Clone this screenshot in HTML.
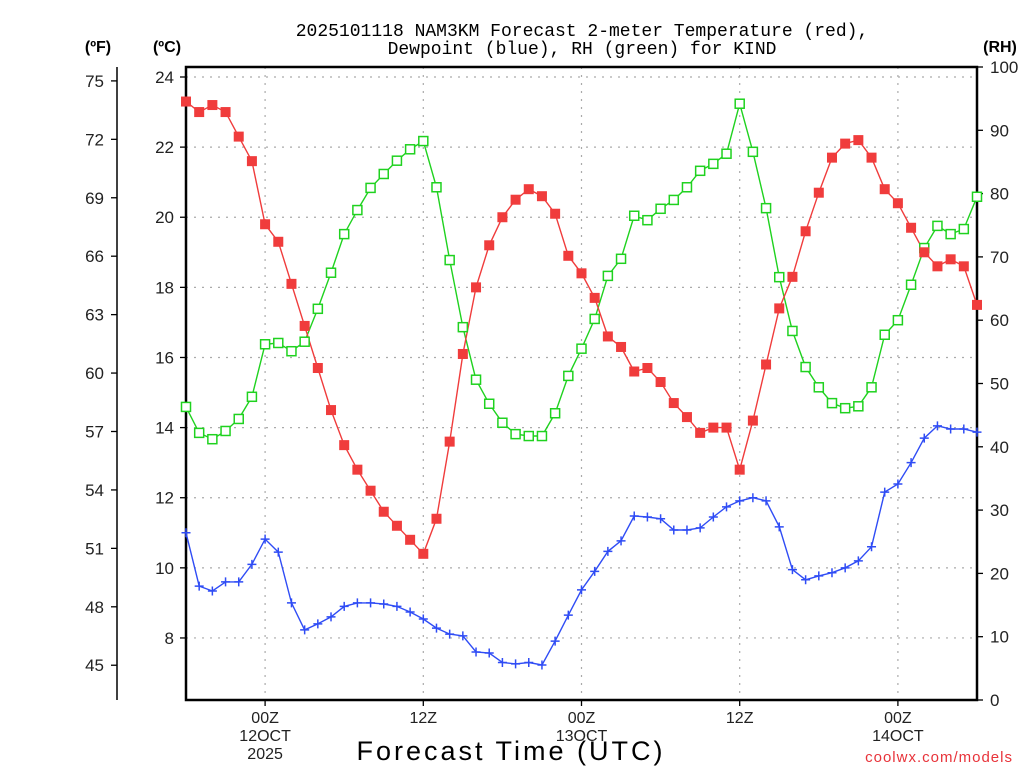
<!DOCTYPE html>
<html><head><meta charset="utf-8"><style>
html,body{margin:0;padding:0;background:#fff;}
svg{display:block;font-family:"Liberation Sans",sans-serif;}
</style></head><body>
<svg id="chart" width="1024" height="768" viewBox="0 0 1024 768">
<g id="grid"></g>
<g id="axes"></g>
<g id="series"></g>
<text x="582" y="36" font-size="18" font-family="Liberation Mono, monospace" text-anchor="middle" fill="#000">2025101118 NAM3KM Forecast 2-meter Temperature (red),</text>
<text x="582" y="54" font-size="18" font-family="Liberation Mono, monospace" text-anchor="middle" fill="#000">Dewpoint (blue), RH (green) for KIND</text>
<text x="98" y="52" font-size="16" font-weight="bold" text-anchor="middle">(ºF)</text>
<text x="167" y="52" font-size="16" font-weight="bold" text-anchor="middle">(ºC)</text>
<text x="1000" y="52" font-size="16" font-weight="bold" text-anchor="middle">(RH)</text>
<text x="511" y="760" font-size="27" text-anchor="middle" letter-spacing="3">Forecast Time (UTC)</text>
<text x="1013" y="762" font-size="15" text-anchor="end" fill="#e8333a" letter-spacing="1">coolwx.com/models</text>
</svg>
<script>
const hoursStart = 0;
const tempC = [23.3,23.0,23.2,23.0,22.3,21.6,19.8,19.3,18.1,16.9,15.7,14.5,13.5,12.8,12.2,11.6,11.2,10.8,10.4,11.4,13.6,16.1,18.0,19.2,20.0,20.5,20.8,20.6,20.1,18.9,18.4,17.7,16.6,16.3,15.6,15.7,15.3,14.7,14.3,13.85,14.0,14.0,12.8,14.2,15.8,17.4,18.3,19.6,20.7,21.7,22.1,22.2,21.7,20.8,20.4,19.7,19.0,18.6,18.8,18.6,17.5];
const dewC = [11.0,9.48,9.34,9.6,9.6,10.1,10.82,10.45,9.0,8.23,8.4,8.6,8.9,9.0,9.0,8.97,8.9,8.74,8.54,8.28,8.11,8.06,7.6,7.57,7.3,7.26,7.3,7.23,7.91,8.65,9.37,9.9,10.47,10.77,11.48,11.45,11.4,11.08,11.08,11.14,11.45,11.74,11.91,12.0,11.91,11.17,9.95,9.66,9.77,9.86,10.0,10.2,10.6,12.16,12.39,13.0,13.7,14.05,13.96,13.96,13.87];
const rh = [46.3,42.2,41.2,42.5,44.4,47.9,56.2,56.4,55.1,56.6,61.8,67.5,73.6,77.4,80.9,83.1,85.2,87.0,88.3,81.0,69.5,58.9,50.6,46.8,43.8,42.0,41.7,41.7,45.3,51.2,55.5,60.2,67.0,69.7,76.5,75.8,77.6,79.0,81.0,83.6,84.7,86.3,94.2,86.6,77.7,66.8,58.3,52.6,49.4,46.9,46.1,46.4,49.4,57.7,60.0,65.6,71.4,74.9,73.6,74.4,79.5];
const cTicks = [8,10,12,14,16,18,20,22,24];
const fTicks = [45,48,51,54,57,60,63,66,69,72,75];
const rhTicks = [0,10,20,30,40,50,60,70,80,90,100];
const xTickHours = [6,18,30,42,54];
const xTickLabels = [["00Z","12OCT","2025"],["12Z"],["00Z","13OCT"],["12Z"],["00Z","14OCT"]];

const NS="http://www.w3.org/2000/svg";
const L=186,R=977,T=67,B=700;
const xS=h=>L+(h-hoursStart)*(R-L)/60;
const yC=c=>77+(24-c)*35.06;
const yF=f=>yC((f-32)*5/9);
const yRH=v=>B-(v)*(B-T)/100;
function mk(tag,attrs,parent){const e=document.createElementNS(NS,tag);for(const k in attrs)e.setAttribute(k,attrs[k]);parent.appendChild(e);return e;}
const grid=document.getElementById('grid'),axes=document.getElementById('axes'),ser=document.getElementById('series');

cTicks.forEach(c=>{
  const g=mk('line',{x1:L,x2:R,y1:yC(c),y2:yC(c),stroke:'#aaa','stroke-width':1.2,'stroke-dasharray':'2,6'},grid);
  
  
  const t=mk('line',{x1:L-6,x2:L,y1:yC(c),y2:yC(c),stroke:'#000','stroke-width':1.3},axes);
  
  
  const tx=mk('text',{x:L-12,y:yC(c)+6,'font-size':17,'text-anchor':'end',fill:'#222'},axes);tx.textContent=c;
  
  
});
xTickHours.forEach((h,i)=>{
  const g=mk('line',{x1:xS(h),x2:xS(h),y1:T,y2:B,stroke:'#aaa','stroke-width':1.2,'stroke-dasharray':'2,6'},grid);
  
  
  const t=mk('line',{x1:xS(h),x2:xS(h),y1:B,y2:B+6,stroke:'#000','stroke-width':1.3},axes);
  
  
  xTickLabels[i].forEach((s,j)=>{
    const tx=mk('text',{x:xS(h),y:723+j*18,'font-size':16,'text-anchor':'middle',fill:'#222'},axes);tx.textContent=s;
    
    
  });
});
const fl=mk('line',{x1:117,x2:117,y1:67,y2:700,stroke:'#000','stroke-width':1.5},axes);


fTicks.forEach(f=>{
  const t=mk('line',{x1:111,x2:117,y1:yF(f),y2:yF(f),stroke:'#000','stroke-width':1.3},axes);
  
  
  const tx=mk('text',{x:104,y:yF(f)+6,'font-size':17,'text-anchor':'end',fill:'#222'},axes);tx.textContent=f;
  
  
});
rhTicks.forEach(v=>{
  const t=mk('line',{x1:R,x2:R+6,y1:yRH(v),y2:yRH(v),stroke:'#000','stroke-width':1.3},axes);
  
  
  const tx=mk('text',{x:990,y:yRH(v)+6,'font-size':17,'text-anchor':'start',fill:'#222'},axes);tx.textContent=v;
  
  
});
const frame=mk('rect',{x:L,y:T,width:R-L,height:B-T,fill:'none',stroke:'#000','stroke-width':2.5},axes);



function line(arr,yf,color,name){
  const pts=arr.map((v,i)=>xS(hoursStart+i).toFixed(1)+','+yf(v).toFixed(1)).join(' ');
  const p=mk('polyline',{points:pts,fill:'none',stroke:color,'stroke-width':1.4},ser);
  
  
}
line(rh,yRH,'#1fd21f','rh-line');
line(tempC,yC,'#f03c3c','temperature-line');
line(dewC,yC,'#2f4cf5','dewpoint-line');
rh.forEach((v,i)=>{
  const m=mk('rect',{x:xS(i)-4.5,y:yRH(v)-4.5,width:9,height:9,fill:'#fff',stroke:'#1fd21f','stroke-width':1.5},ser);
  
  
});
tempC.forEach((v,i)=>{
  const m=mk('rect',{x:xS(i)-5,y:yC(v)-5,width:10,height:10,fill:'#f03c3c'},ser);
  
  
});
dewC.forEach((v,i)=>{
  const x=xS(i),y=yC(v);
  const m=mk('path',{d:`M${x-4.5},${y}H${x+4.5}M${x},${y-4.5}V${y+4.5}`,stroke:'#2f4cf5','stroke-width':1.5},ser);
  
  
});
</script>
</body></html>
